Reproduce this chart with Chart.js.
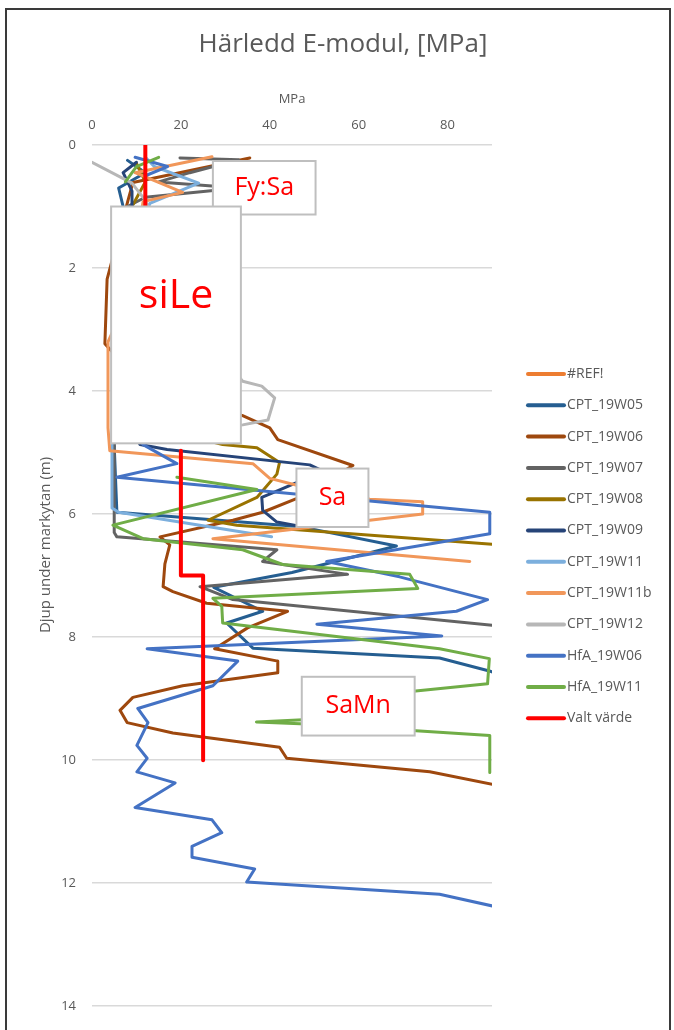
<!DOCTYPE html>
<html>
<head>
<meta charset="utf-8">
<script src="https://cdn.jsdelivr.net/npm/chart.js@4.4.1/dist/chart.umd.min.js"></script>
<style>
  body { margin: 0; background: #fff; }
  canvas { display: block; }
</style>
</head>
<body>
<canvas id="myChart" width="674" height="1030"></canvas>
<script>
// [E-modul (MPa), depth (m)] pairs, null = gap in the line
const ref = [];
const cpt19W05 = [[8,0.25],[12,0.45],[6,0.7],[7,1.0],[5,3],[5,4.9],[5.6,5.97],[46.5,6.2],[68.5,6.52],[45,6.95],[27.4,7.19],[38.4,7.58],[30.3,7.77],[36.2,8.18],[78.2,8.34],[89.4,8.55],[95,8.7]];
const cpt19W06 = [[35.5,0.21],[9.2,0.61],[8.1,0.9],[3.4,2.18],[2.9,3.23],[10,3.8],[33.9,4.4],[40,4.6],[41.8,4.79],[58.7,5.21],[46.7,5.73],[38.4,5.97],[31.7,6.1],[15.3,6.37],[17.5,6.5],[16.4,6.81],[16,7.18],[18.2,7.26],[25.8,7.45],[44,7.58],[35,7.85],[27.6,8.19],[41.8,8.39],[41.8,8.58],[20.4,8.79],[9.2,8.98],[6.3,9.19],[7.9,9.39],[18.2,9.56],[42.2,9.79],[43.8,9.97],[76,10.19],[92,10.42]];
const cpt19W07 = [[19.8,0.21],[33,0.24],[22,0.45],[15,0.6],[33,0.7],[12,0.85],[8,1.0],[5,3],[5,4.9],[5,6.3],[5.6,6.37],[41.6,6.58],[38.4,6.77],[57.5,6.98],[24.3,7.18],[31.7,7.39],[92,7.82]];
const cpt19W08 = [[10,0.3],[12,0.6],[9,1.0],[8,3],[20,4.7],[29.4,4.87],[37.1,4.92],[42.2,5.16],[41.6,5.35],[37.1,5.73],[26.1,6.1],[32.6,6.18],[92,6.5]];
const cpt19W09 = [[10,0.28],[7,0.45],[9,0.75],[9,1.0],[8,3],[8,4.5],[10.8,4.87],[16.9,4.95],[49,5.2],[52,5.3],[42.5,5.6],[38.2,5.73],[38.4,5.94],[41.6,6.13],[47,6.2]];
const cpt19W11 = [[12,0.2],[14,0.35],[24,0.62],[13,0.95],[5,3],[4.5,4.9],[4.5,5.9],[6,5.97],[40.4,6.37]];
const cpt19W11b = [[27,0.19],[9.7,0.45],[20.4,0.77],[11.5,0.92],[8,2.5],[3.6,3.2],[3.6,4.6],[4,4.97],[36.2,5.18],[40,5.42],[46.1,5.53],[62.5,5.76],[74.4,5.8],[74.4,6.0],[27.2,6.4],[85,6.77]];
const cpt19W12 = [[0,0.28],[9,0.62],[12,0.9],[15,1.5],[30,3.5],[33.9,3.84],[38.2,3.92],[41.1,4.11],[39.6,4.47],[33.9,4.55],[20,4.7]];
const hfa19W06 = [[9.7,0.2],[17,0.35],[12,0.5],null,[8,4.6],[11.5,4.87],[19.1,5.18],[5.6,5.4],[89.5,5.97],[89.5,6.32],[52.8,6.77],[69.2,7.02],[89,7.39],[82,7.58],[50.6,7.79],[78.7,7.98],[12.4,8.19],[32.8,8.39],[27.2,8.79],[10.3,9.16],[12.6,9.39],[10.1,9.76],[12.4,9.97],[10.1,10.19],[18.7,10.37],[9.7,10.77],[27,10.97],[29.2,11.18],[22.5,11.4],[22.5,11.58],[36.6,11.77],[34.8,11.98],[78.2,12.18],[95,12.45]];
const hfa19W11 = [[15,0.2],[10,0.35],[7.5,0.6],null,[19.1,5.4],[37.1,5.6],[4.7,6.18],[11.5,6.4],[33.9,6.58],[42.9,6.82],[71.5,6.98],[73.3,7.21],[27.2,7.37],[29.2,7.5],[29.4,7.77],[78.2,8.19],[89.4,8.35],[89,8.76],[60,8.97],[51,9.33],[37,9.38],[51,9.42],[89.5,9.6],[89.5,10.2]];
const valtVarde = [[12,0],[12,1.5],null,[20,4.97],[20,7],[25,7],[25,10]];

const seriesNames = ['#REF!','CPT_19W05','CPT_19W06','CPT_19W07','CPT_19W08','CPT_19W09','CPT_19W11','CPT_19W11b','CPT_19W12','HfA_19W06','HfA_19W11','Valt värde'];
const seriesData = [ref, cpt19W05, cpt19W06, cpt19W07, cpt19W08, cpt19W09, cpt19W11, cpt19W11b, cpt19W12, hfa19W06, hfa19W11, valtVarde];
const seriesColors = ['#ED7D31','#255E91','#9E480E','#636363','#997300','#264478','#7CAFDD','#F1975A','#B7B7B7','#4472C4','#70AD47','#FF0000'];

// soil layer labels, box corners in data units (MPa, m)
const layerLabels = ['Fy:Sa','siLe','Sa','SaMn'];
const layerX0 = [27.2, 4.3, 46, 47.2];
const layerX1 = [50.3, 33.5, 62.2, 72.6];
const layerY0 = [0.26, 1.0, 5.26, 8.645];
const layerY1 = [1.13, 4.85, 6.21, 9.6];
const layerFont = [25, 41, 25, 25];

const FONT = '"Open Sans", sans-serif';
const GREY = '#595959';

const datasets = seriesData.map((pts, i) => ({
  label: seriesNames[i],
  data: pts.map(p => p ? { x: p[0], y: p[1] } : { x: null, y: null }),
  showLine: true,
  borderColor: seriesColors[i],
  backgroundColor: seriesColors[i],
  borderWidth: i === 11 ? 4 : 3,
  pointRadius: 0,
  borderJoinStyle: 'round',
  borderCapStyle: 'round',
  spanGaps: false,
  order: seriesData.length - i
}));

const extras = {
  id: 'extras',
  beforeDraw(chart) {
    const c = chart.ctx;
    c.save();
    c.fillStyle = '#fff';
    c.fillRect(0, 0, chart.width, chart.height);
    c.strokeStyle = '#3a3a3a';
    c.lineWidth = 2;
    c.strokeRect(6, 9, 664, 1040);
    c.restore();
  },
  afterDatasetsDraw(chart) {
    const c = chart.ctx;
    const xs = chart.scales.x, ys = chart.scales.y;
    c.save();
    layerLabels.forEach((txt, i) => {
      const x0 = xs.getPixelForValue(layerX0[i]);
      const x1 = xs.getPixelForValue(layerX1[i]);
      const y0 = ys.getPixelForValue(layerY0[i]);
      const y1 = ys.getPixelForValue(layerY1[i]);
      c.fillStyle = '#fff';
      c.fillRect(x0, y0, x1 - x0, y1 - y0);
      c.strokeStyle = '#BFBFBF';
      c.lineWidth = 2;
      c.strokeRect(x0, y0, x1 - x0, y1 - y0);
      c.fillStyle = '#FF0000';
      c.font = layerFont[i] + 'px ' + FONT;
      c.textAlign = 'center';
      c.textBaseline = 'middle';
      const ty = i === 1 ? y0 + (y1 - y0) * 0.38 : (y0 + y1) / 2;
      c.fillText(txt, (x0 + x1) / 2, ty);
    });
    c.restore();
  },
  afterDraw(chart) {
    const c = chart.ctx;
    c.save();
    // chart title, centred on the whole frame like the Excel original
    c.fillStyle = GREY;
    c.font = '26px ' + FONT;
    c.textAlign = 'center';
    c.textBaseline = 'middle';
    c.fillText('Härledd E-modul, [MPa]', 343, 45);
    // legend
    c.font = '14px ' + FONT;
    c.textAlign = 'left';
    seriesNames.forEach((name, i) => {
      const y = 374 + i * 31.3;
      c.strokeStyle = seriesColors[i];
      c.lineWidth = 4;
      c.lineCap = 'round';
      c.beginPath();
      c.moveTo(528, y);
      c.lineTo(564, y);
      c.stroke();
      c.fillStyle = GREY;
      c.fillText(name, 567, y);
    });
    // y axis title
    c.translate(46, 545);
    c.rotate(-Math.PI / 2);
    c.textAlign = 'center';
    c.font = '15px ' + FONT;
    c.fillText('Djup under markytan (m)', 0, 0);
    c.restore();
  }
};

new Chart(document.getElementById('myChart'), {
  type: 'scatter',
  data: { datasets },
  options: {
    responsive: false,
    animation: false,
    events: [],
    layout: { padding: { left: 0, right: 182, top: 68.8, bottom: 18 } },
    plugins: {
      legend: { display: false },
      tooltip: { enabled: false },
      title: { display: false }
    },
    scales: {
      x: {
        type: 'linear',
        position: 'top',
        min: 0,
        max: 90,
        afterBuildTicks: s => { s.ticks = s.ticks.filter(t => t.value % 20 === 0); },
        afterFit: s => { s.height = 145 - 68.8; },
        ticks: { stepSize: 20, color: GREY, font: { family: FONT, size: 13 }, padding: 12 },
        grid: { display: false, drawTicks: false },
        border: { display: false },
        title: { display: true, text: 'MPa', color: GREY, font: { family: FONT, size: 13 }, padding: { top: 23, bottom: 4 } }
      },
      y: {
        type: 'linear',
        reverse: true,
        min: 0,
        max: 14,
        afterFit: s => { s.width = 92; },
        ticks: { stepSize: 2, color: GREY, font: { family: FONT, size: 13 }, padding: 16 },
        grid: { color: '#D9D9D9', lineWidth: 1.5, drawTicks: false },
        border: { display: false }
      }
    }
  },
  plugins: [extras]
});
</script>
</body>
</html>
